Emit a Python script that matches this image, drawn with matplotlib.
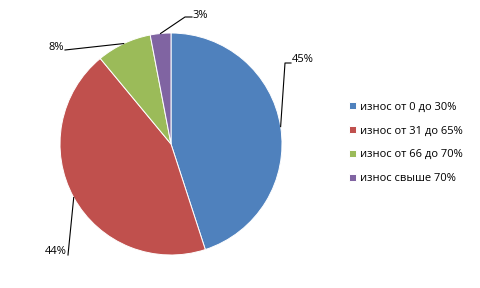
import numpy as np
import matplotlib.pyplot as plt

labels = ['износ от 0 до 30%', 'износ от 31 до 65%', 'износ от 66 до 70%', 'износ свыше 70%']
values = [45, 44, 8, 3]
colors = ['#4F81BD', '#C0504D', '#9BBB59', '#8064A2']

plt.rcParams['font.family'] = ['Open Sans', 'DejaVu Sans']

fig = plt.figure(figsize=(4.8, 2.88), dpi=100)
ax = fig.add_axes([0, 0, 1, 1])

wedges, _ = ax.pie(values, colors=colors, startangle=90, counterclock=False,
                   radius=1, center=(0, 0), frame=True,
                   wedgeprops=dict(edgecolor='white', linewidth=0.7))
ax.set_xlim(-171 / 111, (480 - 171) / 111)
ax.set_ylim(-144 / 111, 144 / 111)
ax.set_aspect('equal')
ax.axis('off')

# pixel coords -> data coords
def px(x, y):
    return ((x - 171) / 111, (144 - y) / 111)

# leader line points, text position, alignment
label_pos = [
    ([px(285, 63), px(291, 63)], px(292, 60), 'left'),
    ([px(68, 255)], px(67, 251), 'right'),
    ([px(65, 50)], px(64, 47), 'right'),
    ([px(185, 17), px(192, 17)], px(193, 15), 'left'),
]

for w, v, (pts, tpos, ha) in zip(wedges, values, label_pos):
    ang = np.deg2rad((w.theta1 + w.theta2) / 2)
    xs = [np.cos(ang)] + [p[0] for p in pts]
    ys = [np.sin(ang)] + [p[1] for p in pts]
    ax.plot(xs, ys, color='black', lw=0.8)
    ax.text(tpos[0], tpos[1], f'{v}%', ha=ha, va='center', fontsize=8)

fig.legend(wedges, labels, loc='center left', bbox_to_anchor=(349 / 480, 145 / 288),
           frameon=False, fontsize=8, handlelength=0.6, handleheight=0.6,
           handletextpad=0.4, labelspacing=1.15, borderpad=0, borderaxespad=0)

fig.savefig('out.png', dpi=100)
